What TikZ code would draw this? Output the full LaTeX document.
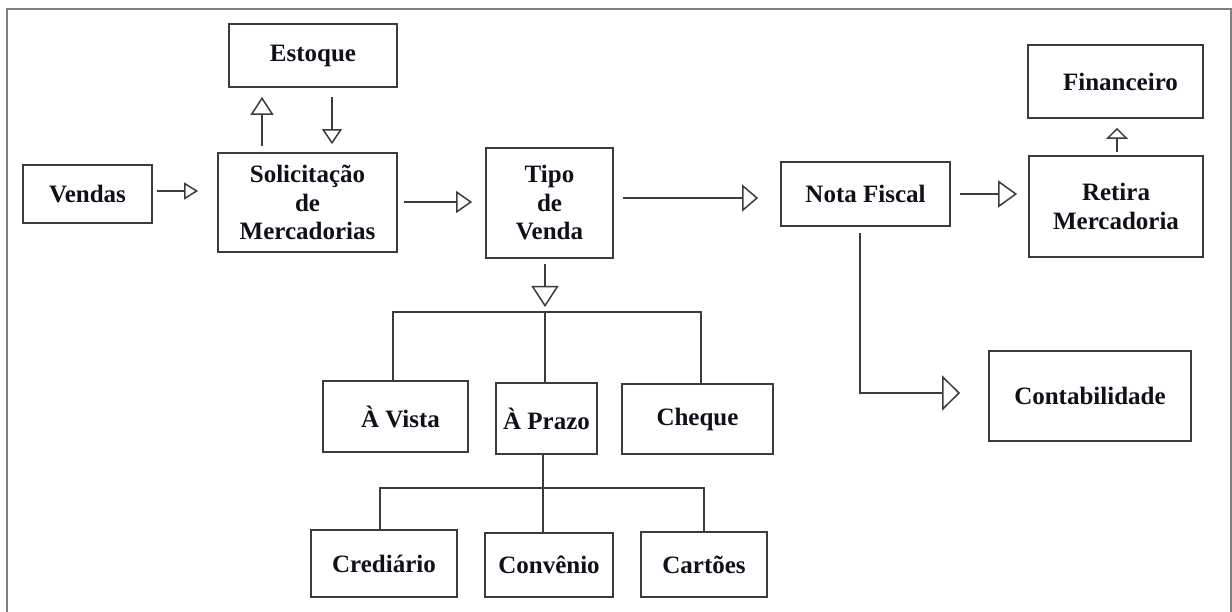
\documentclass[tikz,border=0pt]{standalone}
\usepackage{fontspec}
\setmainfont{Liberation Serif}
\usetikzlibrary{arrows.meta}
\definecolor{linegray}{HTML}{3C3C3C}
\definecolor{framegray}{HTML}{808080}
\definecolor{ink}{HTML}{10101A}
\begin{document}
\begin{tikzpicture}[x=1pt,y=-1pt,
  box/.style={draw=linegray, line width=1.8pt, inner sep=0pt, align=center,
    font=\fontsize{25}{28.5}\selectfont\bfseries, text=ink},
  link/.style={draw=linegray, line width=1.7pt},
  arr/.style 2 args={link, -{Triangle[open, length=#1, width=#2, line width=1.5pt]}},
]
\useasboundingbox (0,0) rectangle (1232,612);
\clip (0,0) rectangle (1232,612);
\fill[white] (0,0) rectangle (1232,612);

% outer frame (runs past the lower edge)
\draw[draw=framegray, line width=1.4pt] (7,9) rectangle (1231,640);

% boxes
\node[box, minimum width=129pt, minimum height=58pt]  (vendas)  at (87.5,194)   {Vendas};
\node[box, minimum width=168pt, minimum height=63pt]  (estoque) at (313,55.5)   {Estoque};
\node[box, minimum width=179pt, minimum height=99pt]  (solic)   at (307.5,202.5) {Solicitação\\de\\Mercadorias};
\node[box, minimum width=127pt, minimum height=110pt] (tipo)    at (549.5,203)  {Tipo\\de\\Venda};
\node[box, minimum width=169pt, minimum height=64pt]  (nota)    at (865.5,194)  {Nota Fiscal};
\node[box, minimum width=174pt, minimum height=101pt] (retira)  at (1116,206.5) {Retira\\Mercadoria};
\node[box, minimum width=175pt, minimum height=73pt]  (fin)     at (1115.5,81.5) {\hspace*{10pt}Financeiro};
\node[box, minimum width=202pt, minimum height=90pt]  (contab)  at (1090,396)   {Contabilidade};
\node[box, minimum width=145pt, minimum height=71pt]  (vista)   at (395.5,416.5) {\hspace*{10pt}À Vista};
\node[box, minimum width=101pt, minimum height=71pt]  (prazo)   at (546.5,418.5) {À Prazo};
\node[box, minimum width=151pt, minimum height=70pt]  (cheque)  at (697.5,419)  {Cheque};
\node[box, minimum width=146pt, minimum height=67pt]  (cred)    at (384,563.5)  {Crediário};
\node[box, minimum width=128pt, minimum height=64pt]  (conv)    at (549,565)    {Convênio};
\node[box, minimum width=126pt, minimum height=65pt]  (cart)    at (704,564.5)  {Cartões};

% branch points
\coordinate (bus1) at (545,312);
\coordinate (bus2) at (543,488);

% main flow
\draw[arr={14pt}{17pt}] ([shift={(4,-3)}]vendas.east) -- ([shift={(-19,-11.5)}]solic.west);
\draw[arr={16pt}{22pt}] ([shift={(6,-0.5)}]solic.east) -- ([shift={(-13,-1)}]tipo.west);
\draw[arr={16pt}{27pt}] ([shift={(9,-5)}]tipo.east) -- ([shift={(-22,4)}]nota.west);
\draw[arr={19pt}{27pt}] ([shift={(9,0)}]nota.east) -- ([shift={(-11,-12.5)}]retira.west);
\draw[arr={11pt}{22pt}] ([shift={(1,-3)}]retira.north) -- ([shift={(1.5,9)}]fin.south);

% stock exchange
\draw[arr={18pt}{23pt}] ([shift={(-45.5,-6)}]solic.north) -- ([shift={(-51,9)}]estoque.south);
\draw[arr={15pt}{20pt}] ([shift={(19,9)}]estoque.south) -- ([shift={(24.5,-8)}]solic.north);

% accounting
\draw[arr={18pt}{35pt}] ([shift={(-5.5,6)}]nota.south) |- ([shift={(-28,-3)}]contab.west);

% payment types
\draw[arr={21pt}{27pt}] ([shift={(-4.5,5)}]tipo.south) -- ([shift={(0,-5)}]bus1);
\draw[link] ([shift={(-2.5,0)}]vista.north) |- (bus1) -| ([shift={(3.5,0)}]cheque.north);
\draw[link] (bus1) -- ([shift={(-1.5,0)}]prazo.north);

% instalment options
\draw[link] ([shift={(-3.5,0)}]prazo.south) -- (bus2);
\draw[link] ([shift={(-4,0)}]cred.north) |- (bus2) -| (cart.north);
\draw[link] (bus2) -- ([shift={(-6,0)}]conv.north);
\end{tikzpicture}
\end{document}
